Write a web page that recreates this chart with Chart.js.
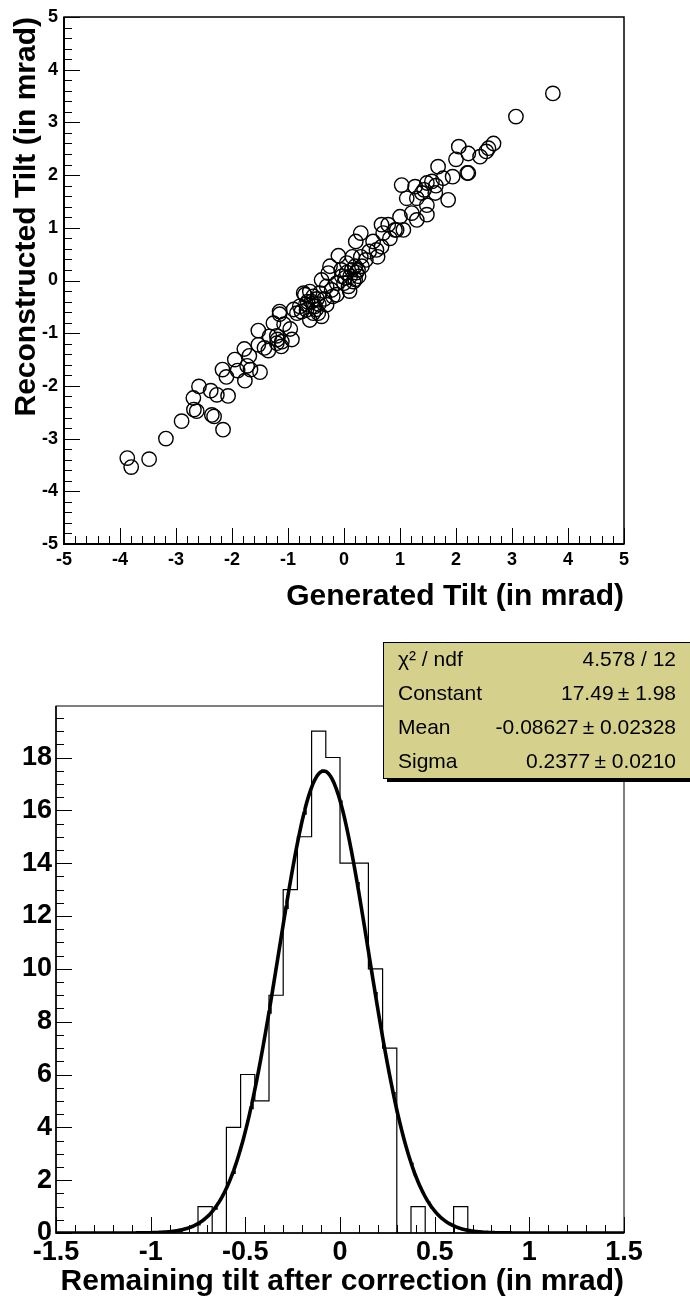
<!DOCTYPE html>
<html>
<head>
<meta charset="utf-8">
<script src="https://cdn.jsdelivr.net/npm/chart.js@4/dist/chart.umd.min.js"></script>
<style>
  html, body { margin: 0; padding: 0; background: #fff; }
  #wrap { position: relative; width: 690px; height: 1301px; }
  canvas { position: absolute; left: 0; }
  #tiltScatter { top: 0; }
  #residHist { top: 620px; }
</style>
</head>
<body>
<div id="wrap">
  <canvas id="tiltScatter" width="690" height="620"></canvas>
  <canvas id="residHist" width="690" height="681"></canvas>
</div>
<script>
const FONT = "'Liberation Sans', Arial, Helvetica, sans-serif";

// generated vs reconstructed tilt per event (mrad)
const genTilt = [
  -3.87, -3.80, -3.48, -3.18, -2.90, -2.69, -2.68, -2.63, -2.59, -2.38,
  -2.27, -2.07, -2.36, -2.32, -2.16, -2.17, -2.10, -1.95, -1.90, -1.78,
  -1.77, -1.69, -1.73, -1.67, -1.50, -1.53, -1.53, -1.42, -1.33, -1.35,
  -1.15, -1.15, -1.19, -1.11, -1.12, -0.96, -0.93, -1.07, -1.26, -1.20,
  -0.84, -0.79, -0.76, -0.70, -0.67, -0.61, -0.61, -0.58, -0.52, -0.46,
  -0.43, -0.40, -0.40, -0.31, -0.31, -0.22, -0.13, -0.13, -0.10, -0.25,
  0.05, 0.14, 0.20, 0.32, 0.11, 0.17, 0.08, 0.26, -0.04, 0.39,
  0.21, 0.30, 0.52, 0.58, 0.67, 0.67, 0.82, 0.79, 0.91, 1.06,
  1.00, 1.21, 1.30, 1.03, 1.27, 1.39, 1.48, 1.12, 1.30, 1.43,
  1.48, 1.48, 1.57, 1.63, 1.68, 1.77, 1.86, 1.94, 2.00, 2.05,
  2.20, 2.22, 2.43, 2.54, 2.58, 2.67, 3.07, 3.73, 0.70, 0.94,
  -0.28, -0.72, -0.55, -0.35, -0.20, 0.00, 0.05, 0.22, 0.30, 0.45,
  -0.50, -0.68, -0.90, 1.64, 2.22, 0.10, -0.05, 0.60, -1.20, -0.45,
  0.15, -0.65, -0.48, -0.55, 0.02, 0.20, 0.25
];
const recTilt = [
  -3.37, -3.54, -3.39, -3.00, -2.67, -2.23, -2.45, -2.48, -2.01, -2.09,
  -2.17, -2.19, -2.55, -2.58, -2.83, -1.69, -1.83, -1.50, -1.71, -1.30,
  -1.90, -1.43, -1.62, -1.69, -1.74, -0.95, -1.22, -1.28, -1.06, -1.33,
  -0.59, -0.64, -1.12, -1.16, -1.25, -0.92, -1.12, -0.83, -0.81, -1.19,
  -0.62, -0.49, -0.59, -0.27, -0.56, -0.21, -0.75, -0.40, -0.49, -0.62,
  -0.24, -0.68, 0.01, -0.11, -0.46, -0.18, -0.27, -0.05, 0.47, 0.27,
  0.33, 0.20, 0.27, 0.27, 0.08, -0.02, -0.11, 0.08, 0.08, 0.39,
  0.74, 0.90, 0.74, 0.58, 0.64, 1.06, 0.80, 1.06, 0.96, 0.96,
  1.21, 1.28, 1.15, 1.81, 1.78, 1.66, 1.85, 1.56, 1.56, 1.72,
  1.43, 1.25, 1.88, 1.66, 2.16, 1.94, 1.53, 1.97, 2.30, 2.54,
  2.04, 2.41, 2.35, 2.45, 2.51, 2.60, 3.11, 3.55, 0.90, 0.96,
  0.14, -0.24, -0.30, -0.35, -0.30, -0.05, 0.15, 0.15, 0.45, 0.55,
  -0.55, -0.45, -0.55, 1.80, 2.04, -0.20, 0.20, 0.45, -1.05, -0.45,
  0.45, -0.40, -0.35, -0.62, 0.05, 0.02, 0.20
];
const scatterTicks = [-5, -4, -3, -2, -1, 0, 1, 2, 3, 4, 5];

// residual after correction: 40 bins over [-1.5, 1.5]
const binLow = -1.5;
const binWidth = 0.075;
const binCounts = [
  0, 0, 0, 0, 0, 0, 0, 0, 0, 0,
  1, 0, 4, 6, 5, 9, 13, 15, 19, 18,
  14, 14, 10, 7, 0, 1, 0, 0, 1, 0,
  0, 0, 0, 0, 0, 0, 0, 0, 0, 0
];
const histXTicks = [-1.5, -1, -0.5, 0, 0.5, 1, 1.5];
const histYTicks = [0, 2, 4, 6, 8, 10, 12, 14, 16, 18];

// gaussian fit result
const fitConstant = 17.49;
const fitMean = -0.08627;
const fitSigma = 0.2377;
const fitStats = [
  ['\u03C7\u00B2 / ndf', '4.578 / 12'],
  ['Constant', '17.49\u2009\u00B1 1.98'],
  ['Mean', '-0.08627\u2009\u00B1 0.02328'],
  ['Sigma', '0.2377\u2009\u00B1 0.0210']
];

// inward ROOT-style tick marks and the frame
const frameTicks = {
  id: 'frameTicks',
  afterDatasetsDraw(chart, args, o) {
    const { ctx, chartArea: a, scales: { x, y } } = chart;
    const isMajor = (v, step) => Math.abs(v / step - Math.round(v / step)) < 1e-6;
    ctx.save();
    ctx.strokeStyle = '#000';
    ctx.lineWidth = 1;
    ctx.beginPath();
    const nx = Math.floor((x.max - x.min) / o.xMinor + 1e-6);
    for (let i = 0; i <= nx; i++) {
      const v = x.min + i * o.xMinor;
      const px = Math.round(x.getPixelForValue(v)) + 0.5;
      ctx.moveTo(px, a.bottom);
      ctx.lineTo(px, a.bottom - (isMajor(v, o.xMajor) ? o.majorLen : o.minorLen));
    }
    const ny = Math.floor((y.max - y.min) / o.yMinor + 1e-6);
    for (let i = 0; i <= ny; i++) {
      const v = y.min + i * o.yMinor;
      const py = Math.round(y.getPixelForValue(v)) + 0.5;
      ctx.moveTo(a.left, py);
      ctx.lineTo(a.left + (isMajor(v, o.yMajor) ? o.majorLen : o.minorLen), py);
    }
    ctx.stroke();
    ctx.lineWidth = o.frameWidth;
    ctx.strokeRect(a.left, a.top, a.right - a.left, a.bottom - a.top);
    ctx.lineWidth = o.axisWidth;
    ctx.beginPath();
    ctx.moveTo(a.left, a.top);
    ctx.lineTo(a.left, a.bottom);
    ctx.lineTo(a.right, a.bottom);
    ctx.stroke();
    ctx.restore();
  }
};

// axis titles, right/top aligned like ROOT
const axisTitles = {
  id: 'axisTitles',
  afterDraw(chart, args, o) {
    const { ctx, chartArea: a } = chart;
    ctx.save();
    ctx.fillStyle = '#000';
    ctx.font = 'bold ' + o.size + 'px ' + FONT;
    ctx.textBaseline = 'alphabetic';
    ctx.textAlign = 'right';
    if (o.x) ctx.fillText(o.x, a.right, o.xBase);
    if (o.y) {
      ctx.translate(o.yBase, a.top);
      ctx.rotate(-Math.PI / 2);
      ctx.fillText(o.y, 0, 0);
    }
    ctx.restore();
  }
};

// fit statistics box with drop shadow
const statsBox = {
  id: 'statsBox',
  afterDraw(chart, args, o) {
    if (!o.rows) return;
    const { ctx } = chart;
    ctx.save();
    ctx.fillStyle = '#000';
    ctx.fillRect(o.x + 4, o.y + 4, o.w, o.h);
    ctx.fillStyle = o.fill;
    ctx.fillRect(o.x, o.y, o.w, o.h);
    ctx.strokeStyle = '#000';
    ctx.lineWidth = 1;
    ctx.strokeRect(o.x + 0.5, o.y + 0.5, o.w, o.h);
    ctx.fillStyle = '#000';
    ctx.font = o.size + 'px ' + FONT;
    ctx.textBaseline = 'alphabetic';
    o.rows.forEach((r, i) => {
      const yb = o.firstBase + i * o.rowStep;
      ctx.textAlign = 'left';
      ctx.fillText(r[0], o.textLeft, yb);
      ctx.textAlign = 'right';
      ctx.fillText(r[1], o.textRight, yb);
    });
    ctx.restore();
  }
};

Chart.register(frameTicks, axisTitles, statsBox);

function setTicks(values) {
  return scale => { scale.ticks = values.map(v => ({ value: v })); };
}
const plainLabel = v => String(v);

// --- scatter: reconstructed vs generated tilt ---
new Chart(document.getElementById('tiltScatter'), {
  type: 'scatter',
  data: {
    datasets: [{
      data: genTilt.map((g, i) => ({ x: g, y: recTilt[i] })),
      pointStyle: 'circle',
      pointRadius: 7.2,
      pointHoverRadius: 7.2,
      pointBorderWidth: 1.4,
      pointBorderColor: '#000',
      pointBackgroundColor: 'rgba(0,0,0,0)'
    }]
  },
  options: {
    responsive: false,
    animation: false,
    events: [],
    layout: { padding: { top: 17, right: 66, left: 0, bottom: 0 } },
    plugins: {
      legend: { display: false },
      tooltip: { enabled: false },
      frameTicks: { xMinor: 0.2, xMajor: 1, yMinor: 0.2, yMajor: 1, majorLen: 16, minorLen: 8, frameWidth: 1.5, axisWidth: 2 },
      axisTitles: { size: 30, x: 'Generated Tilt (in mrad)', xBase: 605, y: 'Reconstructed Tilt (in mrad)', yBase: 35 }
    },
    scales: {
      x: {
        type: 'linear', min: -5, max: 5,
        afterBuildTicks: setTicks(scatterTicks),
        afterFit: s => { s.height = 76; },
        grid: { display: false, drawTicks: false },
        border: { display: false },
        ticks: { color: '#000', padding: 5, maxRotation: 0, autoSkip: false, callback: plainLabel, font: { family: FONT, size: 18, weight: 'bold' } }
      },
      y: {
        type: 'linear', min: -5, max: 5,
        afterBuildTicks: setTicks(scatterTicks),
        afterFit: s => { s.width = 64; },
        grid: { display: false, drawTicks: false },
        border: { display: false },
        ticks: { color: '#000', padding: 6, autoSkip: false, callback: plainLabel, font: { family: FONT, size: 18, weight: 'bold' } }
      }
    }
  }
});

// --- histogram of residuals with gaussian fit ---
const histOutline = binCounts.map((c, i) => ({ x: binLow + i * binWidth, y: c }));
histOutline.push({ x: binLow + binCounts.length * binWidth, y: 0 });

const fitCurve = [];
for (let i = 0; i <= 600; i++) {
  const xv = -1.5 + i * 0.005;
  const z = (xv - fitMean) / fitSigma;
  fitCurve.push({ x: xv, y: fitConstant * Math.exp(-0.5 * z * z) });
}

new Chart(document.getElementById('residHist'), {
  type: 'scatter',
  data: {
    datasets: [{
      data: histOutline,
      showLine: true,
      stepped: true,
      borderColor: '#000',
      borderWidth: 1.2,
      pointRadius: 0,
      fill: false
    }, {
      data: fitCurve,
      showLine: true,
      borderColor: '#000',
      borderWidth: 3.6,
      pointRadius: 0,
      tension: 0,
      fill: false
    }]
  },
  options: {
    responsive: false,
    animation: false,
    events: [],
    layout: { padding: { top: 86, right: 66, left: 0, bottom: 0 } },
    plugins: {
      legend: { display: false },
      tooltip: { enabled: false },
      frameTicks: { xMinor: 0.1, xMajor: 0.5, yMinor: 0.5, yMajor: 2, majorLen: 16, minorLen: 8, frameWidth: 1, axisWidth: 1.5 },
      axisTitles: { size: 30, x: 'Remaining tilt after correction (in mrad)', xBase: 670 },
      statsBox: {
        x: 383, y: 22, w: 310, h: 136, fill: '#d5d18c',
        size: 21, textLeft: 398, textRight: 676, firstBase: 46, rowStep: 34,
        rows: fitStats
      }
    },
    scales: {
      x: {
        type: 'linear', min: -1.5, max: 1.5,
        afterBuildTicks: setTicks(histXTicks),
        afterFit: s => { s.height = 68; },
        grid: { display: false, drawTicks: false },
        border: { display: false },
        ticks: { color: '#000', padding: 3, maxRotation: 0, autoSkip: false, callback: plainLabel, font: { family: FONT, size: 27, weight: 'bold' } }
      },
      y: {
        type: 'linear', min: 0, max: 19.95,
        afterBuildTicks: setTicks(histYTicks),
        afterFit: s => { s.width = 56; },
        grid: { display: false, drawTicks: false },
        border: { display: false },
        ticks: { color: '#000', padding: 4, autoSkip: false, callback: plainLabel, font: { family: FONT, size: 27, weight: 'bold' } }
      }
    }
  }
});
</script>
</body>
</html>
